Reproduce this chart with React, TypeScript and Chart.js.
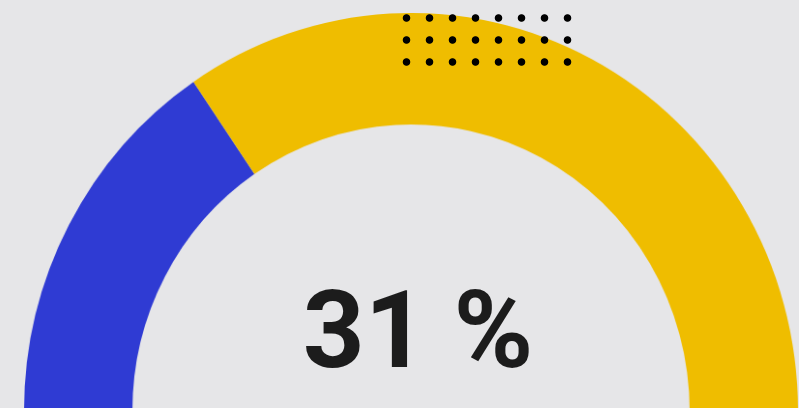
import React, { useEffect, useRef } from "react";
import { Chart, registerables } from "chart.js";

Chart.register(...registerables);

const categories: string[] = ["Progress", "Remaining"];
const values: number[] = [31, 69];
const colors: string[] = ["#2f3bd3", "#efbd00"];
const centerLabel = `${values[0]} %`;

export default function App() {
  const ref = useRef<HTMLCanvasElement | null>(null);

  useEffect(() => {
    if (!ref.current) return;
    const chart = new Chart(ref.current, {
      type: "doughnut",
      data: {
        labels: categories,
        datasets: [
          {
            data: values,
            backgroundColor: colors,
            borderWidth: 0,
          },
        ],
      },
      options: {
        responsive: false,
        animation: false,
        rotation: -90,
        circumference: 180,
        cutout: "72%",
        layout: { padding: 0 },
        plugins: {
          legend: { display: false },
          tooltip: { enabled: false },
        },
      },
    });
    return () => chart.destroy();
  }, []);

  return (
    <div
      style={{
        position: "fixed",
        left: 0,
        top: 0,
        width: 799,
        height: 408,
        overflow: "hidden",
        background: "#e6e6e8",
      }}
    >
      <div
        style={{
          position: "absolute",
          left: 24,
          top: 13,
          width: 800,
          height: 400,
          transformOrigin: "0 0",
          transform: "scale(0.9675, 0.995)",
        }}
      >
        <canvas ref={ref} width={800} height={400} />
      </div>
      <div
        style={{
          position: "absolute",
          left: 395,
          top: -15,
          width: 184,
          height: 88,
          backgroundImage:
            "radial-gradient(circle, #000 0px, #000 3.3px, rgba(0,0,0,0) 4.2px)",
          backgroundSize: "23px 22px",
        }}
      />
      <div
        style={{
          position: "absolute",
          left: 218,
          width: 400,
          top: 265,
          textAlign: "center",
          fontFamily: "Roboto, 'Noto Sans', sans-serif",
          fontWeight: 700,
          fontSize: 108,
          lineHeight: "130px",
          color: "#1c1c1c",
          whiteSpace: "nowrap",
        }}
      >
        {centerLabel}
      </div>
    </div>
  );
}
